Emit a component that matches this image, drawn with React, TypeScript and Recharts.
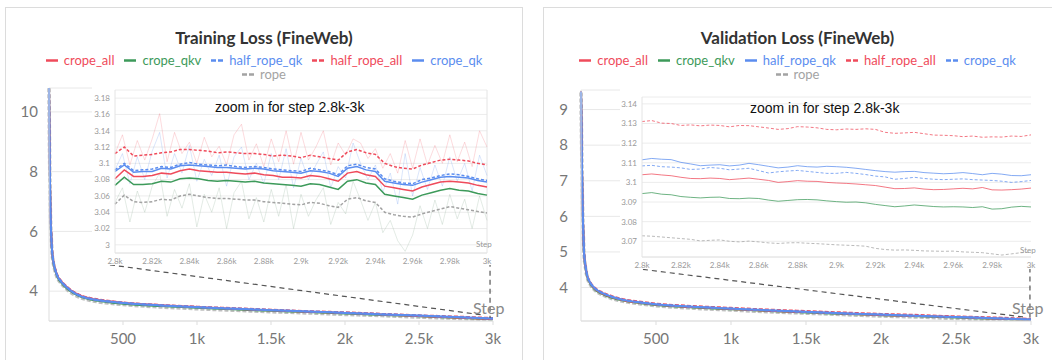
import React from 'react'
import { LineChart, Line, XAxis, YAxis, CartesianGrid, ReferenceLine } from 'recharts'

// ---- colours / fonts
const RED = '#ef4b5b'
const GREEN = '#3d9a5a'
const BLUE = '#5b8def'
const GREY = '#a3a3a3'
const FONT = 'Lato, "Noto Sans", sans-serif'

// ---- main charts (full run)
const mainSteps = [0, 5, 10, 15, 20, 30, 40, 60, 80, 100, 140, 200, 300, 400, 500, 750, 1000, 1250, 1500, 1750, 2000, 2250, 2500, 2750, 3000]
const mainTicks = [500, 1000, 1500, 2000, 2500, 3000]

const trainCropeAll = [10.8, 8.25, 6.62, 5.92, 5.42, 4.99, 4.76, 4.48, 4.34, 4.23, 4.05, 3.87, 3.73, 3.66, 3.61, 3.53, 3.47, 3.41, 3.36, 3.31, 3.27, 3.22, 3.17, 3.12, 3.07]
const trainCropeQkv = [10.78, 8.15, 6.55, 5.86, 5.37, 4.95, 4.72, 4.44, 4.3, 4.19, 4.01, 3.84, 3.7, 3.63, 3.58, 3.5, 3.44, 3.39, 3.34, 3.3, 3.25, 3.2, 3.16, 3.11, 3.06]
const trainHalfRopeQk = [10.81, 8.22, 6.6, 5.9, 5.41, 4.99, 4.76, 4.48, 4.34, 4.23, 4.05, 3.87, 3.73, 3.66, 3.61, 3.53, 3.47, 3.42, 3.37, 3.32, 3.28, 3.23, 3.18, 3.13, 3.08]
const trainHalfRopeAll = [10.82, 8.28, 6.65, 5.95, 5.45, 5.02, 4.79, 4.5, 4.36, 4.25, 4.07, 3.89, 3.75, 3.68, 3.62, 3.54, 3.48, 3.43, 3.38, 3.33, 3.29, 3.24, 3.19, 3.15, 3.1]
const trainCropeQk = [10.8, 8.2, 6.58, 5.89, 5.4, 4.98, 4.75, 4.47, 4.33, 4.22, 4.04, 3.86, 3.72, 3.65, 3.6, 3.52, 3.46, 3.41, 3.36, 3.32, 3.27, 3.22, 3.18, 3.13, 3.08]
const trainRope = [10.79, 8.1, 6.5, 5.82, 5.33, 4.92, 4.69, 4.41, 4.27, 4.16, 3.98, 3.81, 3.67, 3.6, 3.55, 3.47, 3.41, 3.36, 3.31, 3.27, 3.22, 3.18, 3.13, 3.09, 3.04]

const valCropeAll = [9.5, 7.8, 6.4, 5.6, 5.0, 4.6, 4.35, 4.14, 4.02, 3.94, 3.84, 3.74, 3.63, 3.57, 3.52, 3.45, 3.4, 3.35, 3.31, 3.27, 3.23, 3.2, 3.17, 3.13, 3.1]
const valCropeQkv = [9.49, 7.76, 6.36, 5.57, 4.98, 4.58, 4.33, 4.12, 4.0, 3.92, 3.82, 3.72, 3.62, 3.56, 3.51, 3.44, 3.39, 3.34, 3.3, 3.26, 3.22, 3.19, 3.16, 3.12, 3.09]
const valHalfRopeQk = [9.51, 7.82, 6.42, 5.62, 5.02, 4.61, 4.36, 4.15, 4.03, 3.95, 3.85, 3.75, 3.64, 3.58, 3.53, 3.46, 3.41, 3.36, 3.32, 3.28, 3.24, 3.21, 3.17, 3.14, 3.1]
const valHalfRopeAll = [9.52, 7.86, 6.46, 5.66, 5.05, 4.64, 4.39, 4.17, 4.05, 3.97, 3.87, 3.77, 3.66, 3.6, 3.55, 3.48, 3.43, 3.38, 3.34, 3.3, 3.26, 3.23, 3.19, 3.16, 3.12]
const valCropeQk = [9.5, 7.81, 6.41, 5.61, 5.01, 4.6, 4.36, 4.15, 4.03, 3.95, 3.85, 3.75, 3.64, 3.58, 3.53, 3.46, 3.41, 3.36, 3.31, 3.27, 3.24, 3.2, 3.17, 3.14, 3.1]
const valRope = [9.48, 7.72, 6.32, 5.54, 4.95, 4.56, 4.31, 4.1, 3.98, 3.9, 3.8, 3.7, 3.6, 3.54, 3.49, 3.42, 3.37, 3.32, 3.28, 3.24, 3.2, 3.17, 3.13, 3.1, 3.06]

// ---- zoom insets (step 2.8k - 3k)
const zoomSteps = [2800, 2805, 2810, 2815, 2820, 2825, 2830, 2835, 2840, 2845, 2850, 2855, 2860, 2865, 2870, 2875, 2880, 2885, 2890, 2895, 2900, 2905, 2910, 2915, 2920, 2925, 2930, 2935, 2940, 2945, 2950, 2955, 2960, 2965, 2970, 2975, 2980, 2985, 2990, 2995, 3000]
const rawSteps = [2800, 2804, 2808, 2812, 2816, 2820, 2824, 2828, 2832, 2836, 2840, 2844, 2848, 2852, 2856, 2860, 2864, 2868, 2872, 2876, 2880, 2884, 2888, 2892, 2896, 2900, 2904, 2908, 2912, 2916, 2920, 2924, 2928, 2932, 2936, 2940, 2944, 2948, 2952, 2956, 2960, 2964, 2968, 2972, 2976, 2980, 2984, 2988, 2992, 2996, 3000]
const zoomXTicks = [2800, 2820, 2840, 2860, 2880, 2900, 2920, 2940, 2960, 2980, 3000]

const zTrainCropeQk = [3.09, 3.098, 3.089, 3.09, 3.09, 3.094, 3.093, 3.097, 3.098, 3.097, 3.096, 3.095, 3.095, 3.094, 3.093, 3.094, 3.093, 3.091, 3.09, 3.089, 3.088, 3.091, 3.09, 3.088, 3.084, 3.094, 3.096, 3.092, 3.09, 3.078, 3.076, 3.074, 3.073, 3.077, 3.08, 3.083, 3.084, 3.083, 3.082, 3.079, 3.077]
const zTrainHalfRopeQk = [3.092, 3.1, 3.091, 3.092, 3.093, 3.096, 3.095, 3.099, 3.101, 3.099, 3.098, 3.097, 3.098, 3.096, 3.095, 3.096, 3.095, 3.093, 3.092, 3.091, 3.09, 3.094, 3.092, 3.09, 3.086, 3.097, 3.099, 3.095, 3.093, 3.081, 3.078, 3.076, 3.075, 3.08, 3.082, 3.085, 3.087, 3.086, 3.084, 3.081, 3.079]
const zTrainCropeAll = [3.081, 3.092, 3.084, 3.084, 3.085, 3.088, 3.087, 3.091, 3.093, 3.091, 3.09, 3.089, 3.089, 3.088, 3.087, 3.088, 3.086, 3.085, 3.083, 3.083, 3.082, 3.085, 3.084, 3.081, 3.078, 3.088, 3.09, 3.086, 3.084, 3.072, 3.07, 3.068, 3.066, 3.071, 3.074, 3.077, 3.078, 3.077, 3.076, 3.073, 3.071]
const zTrainCropeQkv = [3.073, 3.083, 3.074, 3.074, 3.075, 3.078, 3.077, 3.081, 3.082, 3.081, 3.079, 3.078, 3.079, 3.078, 3.077, 3.078, 3.076, 3.075, 3.074, 3.073, 3.072, 3.075, 3.074, 3.071, 3.068, 3.078, 3.08, 3.076, 3.074, 3.062, 3.06, 3.058, 3.056, 3.061, 3.064, 3.067, 3.069, 3.067, 3.066, 3.063, 3.061]
const zTrainRope = [3.05, 3.061, 3.053, 3.052, 3.053, 3.056, 3.055, 3.06, 3.062, 3.06, 3.058, 3.057, 3.057, 3.056, 3.055, 3.055, 3.053, 3.052, 3.051, 3.05, 3.049, 3.052, 3.051, 3.048, 3.046, 3.056, 3.058, 3.054, 3.052, 3.04, 3.037, 3.035, 3.034, 3.038, 3.041, 3.044, 3.047, 3.045, 3.043, 3.041, 3.039]
const zTrainHalfRopeAll = [3.112, 3.12, 3.109, 3.11, 3.111, 3.113, 3.114, 3.117, 3.117, 3.116, 3.115, 3.113, 3.114, 3.113, 3.112, 3.112, 3.111, 3.109, 3.11, 3.109, 3.107, 3.11, 3.108, 3.106, 3.104, 3.114, 3.117, 3.113, 3.111, 3.1, 3.096, 3.094, 3.093, 3.098, 3.101, 3.104, 3.105, 3.104, 3.103, 3.1, 3.098]

// unsmoothed training loss (faint)
const rawPink = [3.112, 3.135, 3.098, 3.128, 3.104, 3.13, 3.161, 3.102, 3.138, 3.112, 3.126, 3.1, 3.132, 3.108, 3.121, 3.098, 3.135, 3.148, 3.104, 3.124, 3.096, 3.13, 3.102, 3.14, 3.099, 3.138, 3.104, 3.12, 3.14, 3.098, 3.125, 3.11, 3.13, 3.125, 3.106, 3.118, 3.094, 3.112, 3.088, 3.128, 3.094, 3.13, 3.098, 3.122, 3.1, 3.135, 3.102, 3.126, 3.096, 3.14, 3.12]
const rawBlue = [3.092, 3.112, 3.075, 3.108, 3.08, 3.115, 3.138, 3.082, 3.112, 3.088, 3.122, 3.078, 3.105, 3.085, 3.11, 3.072, 3.108, 3.12, 3.08, 3.1, 3.075, 3.112, 3.08, 3.118, 3.07, 3.106, 3.08, 3.098, 3.114, 3.07, 3.096, 3.082, 3.125, 3.1, 3.08, 3.098, 3.065, 3.088, 3.05, 3.112, 3.06, 3.095, 3.068, 3.098, 3.072, 3.108, 3.078, 3.1, 3.066, 3.11, 3.085]
const rawGrey = [3.052, 3.07, 3.028, 3.066, 3.04, 3.072, 3.088, 3.035, 3.068, 3.045, 3.075, 3.022, 3.062, 3.04, 3.07, 3.02, 3.064, 3.078, 3.032, 3.058, 3.028, 3.068, 3.035, 3.074, 3.02, 3.062, 3.035, 3.055, 3.07, 3.025, 3.052, 3.038, 3.078, 3.055, 3.03, 3.052, 3.015, 3.03, 3.005, 2.992, 3.012, 3.048, 3.02, 3.055, 3.025, 3.062, 3.032, 3.056, 3.02, 3.06, 3.03]

const zValHalfRopeAll = [3.131, 3.1315, 3.1302, 3.13, 3.129, 3.1293, 3.1288, 3.1292, 3.129, 3.1283, 3.129, 3.1289, 3.1283, 3.1277, 3.127, 3.1274, 3.1284, 3.1282, 3.1278, 3.127, 3.1268, 3.1272, 3.127, 3.1273, 3.127, 3.1255, 3.125, 3.1252, 3.1255, 3.1248, 3.1241, 3.124, 3.1238, 3.1233, 3.1236, 3.123, 3.1232, 3.1231, 3.1236, 3.1234, 3.1242]
const zValHalfRopeQk = [3.1115, 3.1122, 3.1118, 3.1116, 3.1102, 3.1094, 3.1085, 3.1088, 3.109, 3.1084, 3.1088, 3.1097, 3.109, 3.1082, 3.1074, 3.1078, 3.1085, 3.108, 3.1078, 3.1082, 3.108, 3.1077, 3.1072, 3.1066, 3.106, 3.1055, 3.1052, 3.1055, 3.1056, 3.105, 3.1047, 3.1044, 3.1046, 3.105, 3.1045, 3.1039, 3.1046, 3.1042, 3.1035, 3.1034, 3.1039]
const zValCropeQk = [3.1084, 3.1087, 3.108, 3.1078, 3.1074, 3.1066, 3.1068, 3.1076, 3.1072, 3.1064, 3.1068, 3.1072, 3.106, 3.1048, 3.1054, 3.1058, 3.1061, 3.1056, 3.1051, 3.1046, 3.1046, 3.1051, 3.1046, 3.104, 3.1032, 3.1028, 3.1016, 3.102, 3.1026, 3.102, 3.1016, 3.1014, 3.1016, 3.1018, 3.1014, 3.1012, 3.101, 3.1006, 3.1, 3.1004, 3.101]
const zValCropeAll = [3.1039, 3.1043, 3.1038, 3.1034, 3.1026, 3.102, 3.1019, 3.1022, 3.102, 3.1014, 3.1018, 3.1022, 3.1016, 3.101, 3.1, 3.1004, 3.1009, 3.1006, 3.1005, 3.1, 3.0997, 3.0995, 3.0992, 3.0988, 3.0984, 3.0976, 3.0968, 3.0969, 3.0972, 3.0966, 3.0963, 3.0964, 3.0967, 3.097, 3.0967, 3.0974, 3.0962, 3.0961, 3.0963, 3.0966, 3.0971]
const zValCropeQkv = [3.0943, 3.0948, 3.094, 3.0937, 3.0928, 3.0924, 3.0921, 3.0924, 3.0925, 3.0918, 3.0917, 3.092, 3.0918, 3.091, 3.0904, 3.0908, 3.0912, 3.0913, 3.0911, 3.0906, 3.0902, 3.0899, 3.09, 3.0896, 3.0888, 3.0882, 3.0876, 3.088, 3.0885, 3.0881, 3.0877, 3.0875, 3.0876, 3.0875, 3.0872, 3.0876, 3.0864, 3.0866, 3.0874, 3.0878, 3.0875]
const zValRope = [3.0728, 3.0726, 3.0722, 3.0718, 3.0714, 3.071, 3.0702, 3.0705, 3.0707, 3.07, 3.0697, 3.0701, 3.0697, 3.0692, 3.0689, 3.0692, 3.0693, 3.069, 3.0688, 3.0685, 3.0682, 3.068, 3.0678, 3.0675, 3.0664, 3.0658, 3.0655, 3.0656, 3.0654, 3.0651, 3.065, 3.0649, 3.065, 3.0646, 3.0644, 3.0642, 3.0636, 3.063, 3.0636, 3.0642, 3.0645]

// dashed guides from the inset to the zoomed region (main chart data coords)
const trainGuides = [
  [{ x: 412, y: 4.88 }, { x: 2932, y: 3.2 }],
  [{ x: 2980, y: 4.98 }, { x: 2980, y: 3.1 }],
]
const valGuides = [
  [{ x: 413, y: 4.51 }, { x: 2973, y: 3.16 }],
  [{ x: 2993, y: 4.56 }, { x: 2993, y: 3.16 }],
]

type Row = { step: number; [k: string]: number | undefined }

function buildRows(tables: { steps: number[]; cols: Record<string, number[]> }[]): Row[] {
  const map = new Map<number, Row>()
  tables.forEach(({ steps, cols }) => {
    steps.forEach((s, i) => {
      const row = map.get(s) || { step: s }
      Object.keys(cols).forEach(k => { row[k] = cols[k][i] })
      map.set(s, row)
    })
  })
  return Array.from(map.values()).sort((a, b) => a.step - b.step)
}

type Series = { key: string; color: string; dashed: boolean }

const trainSeries: Series[] = [
  { key: 'crope_all', color: RED, dashed: false },
  { key: 'crope_qkv', color: GREEN, dashed: false },
  { key: 'half_rope_qk', color: BLUE, dashed: true },
  { key: 'half_rope_all', color: RED, dashed: true },
  { key: 'crope_qk', color: BLUE, dashed: false },
  { key: 'rope', color: GREY, dashed: true },
]
const valSeries: Series[] = [
  { key: 'crope_all', color: RED, dashed: false },
  { key: 'crope_qkv', color: GREEN, dashed: false },
  { key: 'half_rope_qk', color: BLUE, dashed: false },
  { key: 'half_rope_all', color: RED, dashed: true },
  { key: 'crope_qk', color: BLUE, dashed: true },
  { key: 'rope', color: GREY, dashed: true },
]
// drawing order (back to front)
const drawOrder = ['rope', 'crope_qkv', 'crope_all', 'half_rope_all', 'half_rope_qk', 'crope_qk']

const trainMain = buildRows([{ steps: mainSteps, cols: {
  crope_all: trainCropeAll, crope_qkv: trainCropeQkv, half_rope_qk: trainHalfRopeQk,
  half_rope_all: trainHalfRopeAll, crope_qk: trainCropeQk, rope: trainRope } }])
const valMain = buildRows([{ steps: mainSteps, cols: {
  crope_all: valCropeAll, crope_qkv: valCropeQkv, half_rope_qk: valHalfRopeQk,
  half_rope_all: valHalfRopeAll, crope_qk: valCropeQk, rope: valRope } }])
const trainZoom = buildRows([
  { steps: zoomSteps, cols: {
    crope_all: zTrainCropeAll, crope_qkv: zTrainCropeQkv, half_rope_qk: zTrainHalfRopeQk,
    half_rope_all: zTrainHalfRopeAll, crope_qk: zTrainCropeQk, rope: zTrainRope } },
  { steps: rawSteps, cols: { rawPink, rawBlue, rawGrey } },
])
const valZoom = buildRows([{ steps: zoomSteps, cols: {
  crope_all: zValCropeAll, crope_qkv: zValCropeQkv, half_rope_qk: zValHalfRopeQk,
  half_rope_all: zValHalfRopeAll, crope_qk: zValCropeQk, rope: zValRope } }])

const fmtStep = (v: number) => (v < 1000 ? String(v) : `${v / 1000}k`)
const fmtZoomY = (v: number) => String(+v.toFixed(2))

function LegendBlock({ series, left, width }: { series: Series[]; left: number; width: number }) {
  const item = (s: Series) => (
    <span key={s.key} style={{ display: 'inline-block', margin: '0 5px', color: s.color, height: 14, verticalAlign: 'top' }}>
      <svg width={12} height={14} style={{ marginRight: 6, verticalAlign: 'top' }}>
        <line x1={0} y1={7.5} x2={12} y2={7.5} stroke={s.color} strokeWidth={2.5} strokeDasharray={s.dashed ? '5 2' : undefined} />
      </svg>
      {s.key}
    </span>
  )
  const first = series.filter(s => s.key !== 'rope')
  const last = series.filter(s => s.key === 'rope')
  return (
    <div style={{ position: 'absolute', left, width, top: 53, textAlign: 'center', fontFamily: FONT, fontSize: 13, lineHeight: '14px' }}>
      <div style={{ height: 14, whiteSpace: 'nowrap' }}>{first.map(item)}</div>
      <div style={{ height: 14, whiteSpace: 'nowrap' }}>{last.map(item)}</div>
    </div>
  )
}

function MainChart(props: {
  data: Row[]; series: Series[]; left: number; width: number; margin: any;
  domain: [number, number]; yTicks: number[]; tickMargin: number; guides: any[]
}) {
  const { data, series, left, width, margin, domain, yTicks, tickMargin, guides } = props
  return (
    <div style={{ position: 'absolute', left, top: 0 }}>
      <LineChart width={width} height={360} data={data} margin={margin}>
        <CartesianGrid vertical={false} stroke="#e8e8e8" />
        <XAxis dataKey="step" type="number" domain={[0, 3000]} ticks={mainTicks} tickFormatter={fmtStep}
          height={30} stroke="#ddd" tickSize={4} tickMargin={8}
          tick={{ fill: '#777', fontSize: 15, fontFamily: FONT }} />
        <YAxis type="number" domain={domain} ticks={yTicks} allowDataOverflow width={40}
          stroke="#ddd" tickSize={0} tickMargin={tickMargin}
          tick={{ fill: '#777', fontSize: 15, fontFamily: FONT }} />
        {drawOrder.map(k => {
          const s = series.find(x => x.key === k)!
          return (
            <Line key={k} dataKey={k} type="monotone" stroke={s.color} dot={false}
              strokeWidth={k === 'rope' ? 3.5 : 2} strokeOpacity={k === 'rope' ? 0.7 : 1}
              strokeDasharray={s.dashed ? '4 2' : undefined} isAnimationActive={false} />
          )
        })}
        {guides.map((g, i) => (
          <ReferenceLine key={i} segment={g} stroke="#555" strokeWidth={1.2} strokeDasharray="5 4" />
        ))}
      </LineChart>
    </div>
  )
}

function ZoomChart(props: {
  data: Row[]; series: Series[]; left: number; top: number; width: number; height: number;
  domain: [number, number]; yTicks: number[]; yWidth: number; raw: boolean; thin: boolean; rightEdge: boolean
}) {
  const { data, series, left, top, width, height, domain, yTicks, yWidth, raw, thin, rightEdge } = props
  return (
    <div style={{ position: 'absolute', left, top, width, height, background: '#fff' }}>
      <LineChart width={width} height={height} data={data} margin={{ top: 8, right: 15, bottom: 0, left: 0 }}>
        <CartesianGrid vertical={false} stroke="#ececec" />
        <XAxis dataKey="step" type="number" domain={[2800, 3000]} ticks={zoomXTicks} tickFormatter={fmtStep}
          height={12} stroke="#e4e4e4" tickSize={0} tickMargin={5} interval={0}
          tick={{ fill: '#999', fontSize: 8, fontFamily: FONT }} />
        <YAxis type="number" domain={domain} ticks={yTicks} tickFormatter={fmtZoomY} allowDataOverflow
          width={yWidth} stroke="#e4e4e4" tickSize={0} tickMargin={5} interval={0}
          tick={{ fill: '#999', fontSize: 8, fontFamily: FONT }} />
        {rightEdge && <ReferenceLine x={3000} stroke="#e4e4e4" />}
        {raw && <Line dataKey="rawGrey" type="linear" stroke="#8fae97" strokeOpacity={0.25} strokeWidth={1} dot={false} connectNulls isAnimationActive={false} />}
        {raw && <Line dataKey="rawBlue" type="linear" stroke={BLUE} strokeOpacity={0.22} strokeWidth={1} dot={false} connectNulls isAnimationActive={false} />}
        {raw && <Line dataKey="rawPink" type="linear" stroke={RED} strokeOpacity={0.2} strokeWidth={1} dot={false} connectNulls isAnimationActive={false} />}
        {drawOrder.map(k => {
          const s = series.find(x => x.key === k)!
          return (
            <Line key={k} dataKey={k} type="linear" stroke={s.color} dot={false} connectNulls
              strokeWidth={thin ? 1 : 1.5} strokeOpacity={thin ? 0.75 : 1}
              strokeDasharray={s.dashed ? '3 2' : undefined} isAnimationActive={false} />
          )
        })}
      </LineChart>
    </div>
  )
}

const abs = (left: number, top: number, extra: React.CSSProperties = {}): React.CSSProperties => ({
  position: 'absolute', left, top, whiteSpace: 'nowrap', ...extra,
})

export default function App() {
  return (
    <div style={{ position: 'absolute', left: 0, top: 0, width: 1052, height: 360, overflow: 'hidden', background: '#fff' }}>
      {/* panel frames */}
      <div style={abs(5, 7, { width: 518, height: 400, border: '1px solid #dcdcdc', boxSizing: 'border-box' })} />
      <div style={abs(543, 7, { width: 530, height: 400, border: '1px solid #dcdcdc', boxSizing: 'border-box' })} />

      {/* titles */}
      <div style={abs(5, 28, { width: 518, textAlign: 'center', fontFamily: FONT, fontWeight: 700, fontSize: 17, lineHeight: '20px', color: '#333' })}>
        Training Loss (FineWeb)
      </div>
      <div style={abs(543, 28, { width: 509, textAlign: 'center', fontFamily: FONT, fontWeight: 700, fontSize: 17, lineHeight: '20px', color: '#333' })}>
        Validation Loss (FineWeb)
      </div>
      <LegendBlock series={trainSeries} left={5} width={518} />
      <LegendBlock series={valSeries} left={543} width={509} />

      {/* full-run charts */}
      <MainChart data={trainMain} series={trainSeries} left={0} width={520}
        margin={{ top: 88, right: 27, left: 9, bottom: 9 }} domain={[3, 10.8]} yTicks={[4, 6, 8, 10]}
        tickMargin={11} guides={trainGuides} />
      <MainChart data={valMain} series={valSeries} left={540} width={512}
        margin={{ top: 90, right: 21, left: 1, bottom: 9 }} domain={[3.06, 9.55]} yTicks={[4, 5, 6, 7, 8, 9]}
        tickMargin={13} guides={valGuides} />
      <div style={abs(473, 298, { fontFamily: FONT, fontSize: 16, color: '#888' })}>Step</div>
      <div style={abs(1012, 298, { fontFamily: FONT, fontSize: 16, color: '#888' })}>Step</div>

      {/* zoom insets */}
      <ZoomChart data={trainZoom} series={trainSeries} left={92} top={82} width={410} height={183}
        domain={[2.99, 3.19]} yTicks={[3, 3.02, 3.04, 3.06, 3.08, 3.1, 3.12, 3.14, 3.16, 3.18]} yWidth={23}
        raw thin={false} rightEdge />
      <ZoomChart data={valZoom} series={valSeries} left={620} top={89} width={426} height={180}
        domain={[3.062, 3.1435]} yTicks={[3.07, 3.08, 3.09, 3.1, 3.11, 3.12, 3.13, 3.14]} yWidth={22}
        raw={false} thin rightEdge={false} />
      <div style={abs(476, 239, { fontFamily: FONT, fontSize: 8, color: '#999' })}>Step</div>
      <div style={abs(1020, 245, { fontFamily: FONT, fontSize: 8, color: '#999' })}>Step</div>
      <div style={abs(215, 99, { fontFamily: '"Liberation Sans", Arial, sans-serif', fontSize: 14, color: '#111' })}>zoom in for step 2.8k-3k</div>
      <div style={abs(750, 100, { fontFamily: '"Liberation Sans", Arial, sans-serif', fontSize: 14, color: '#111' })}>zoom in for step 2.8k-3k</div>
    </div>
  )
}
